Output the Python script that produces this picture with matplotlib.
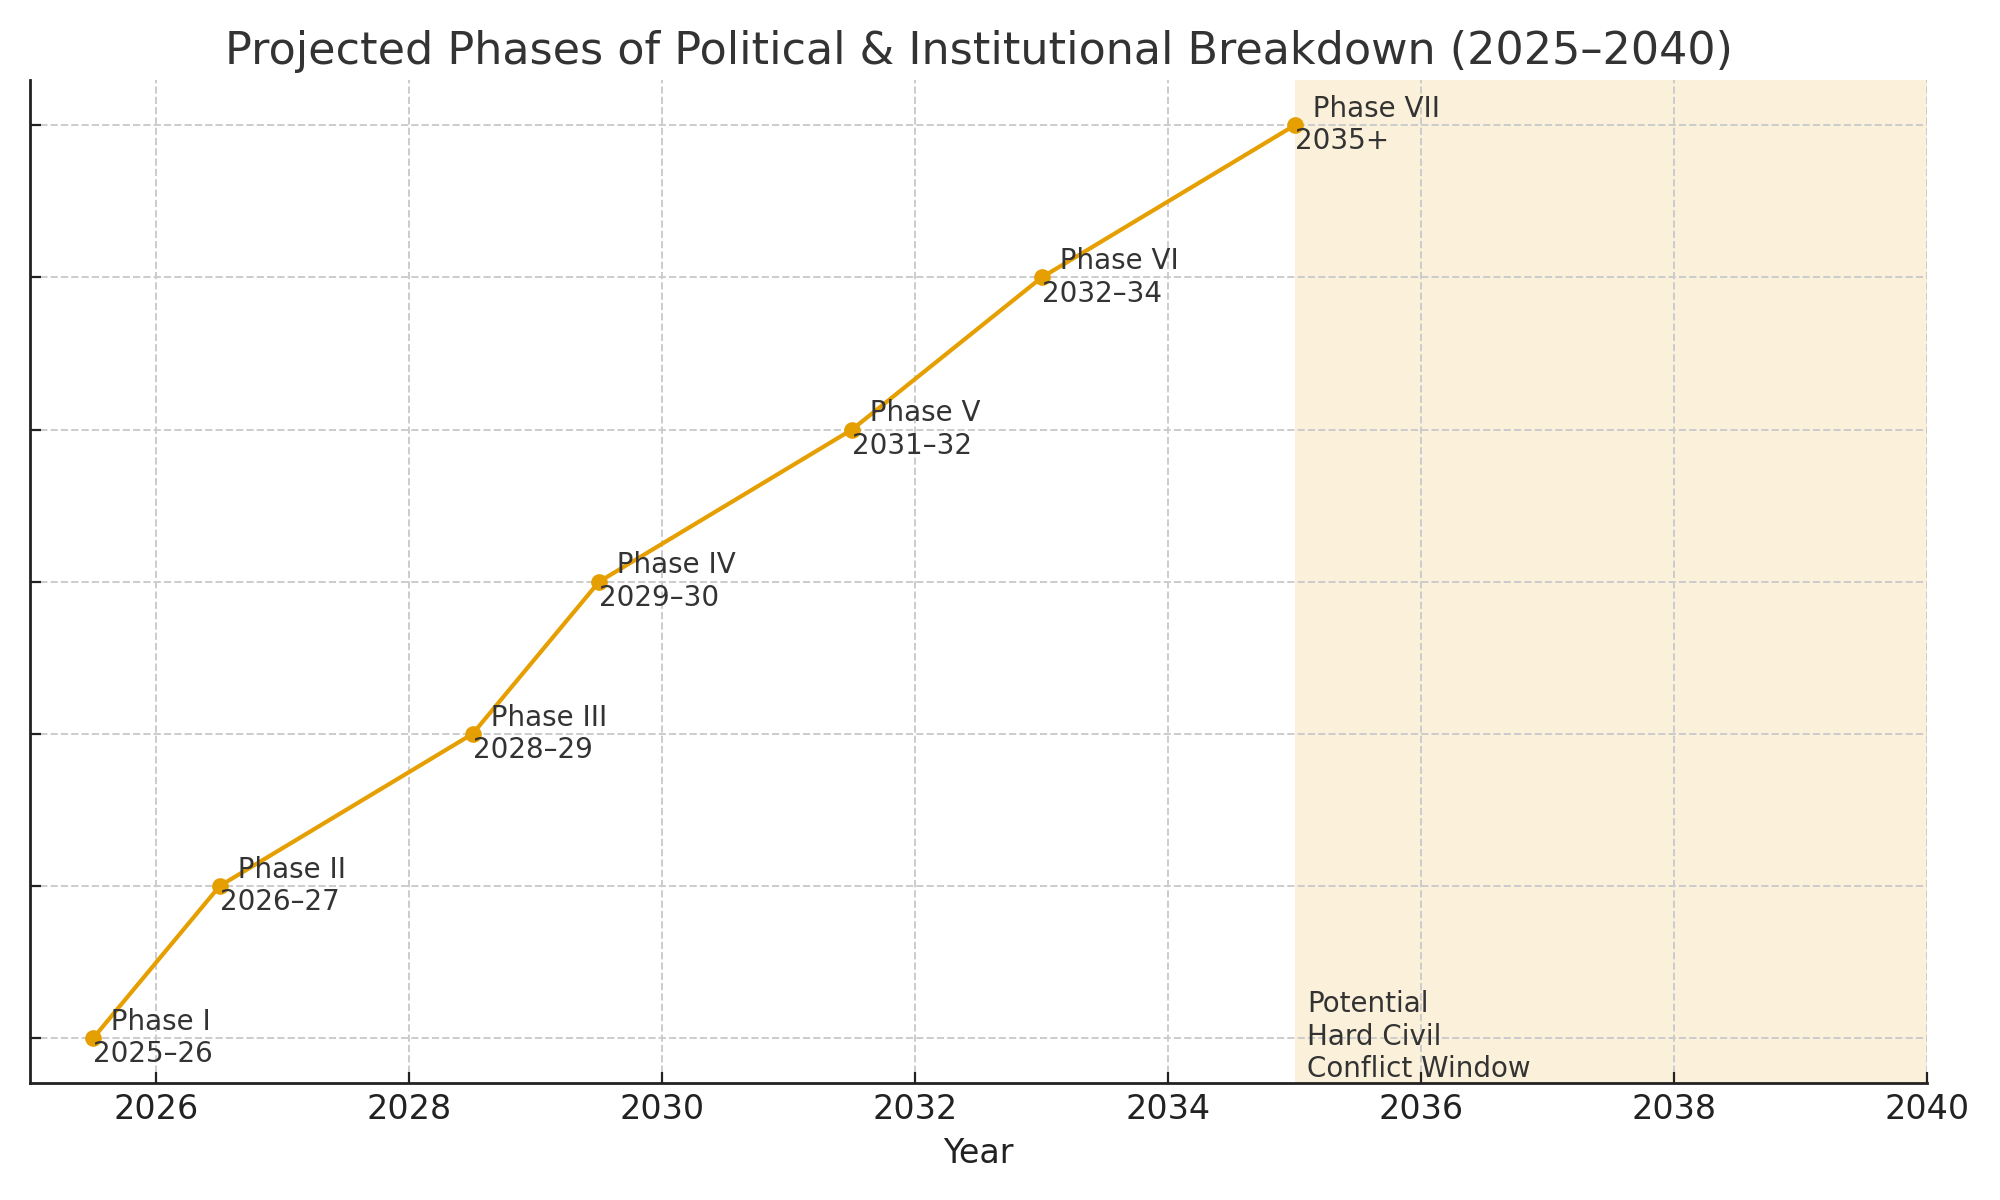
import matplotlib.pyplot as plt

# =========================================================
# DATA
# =========================================================

years = [2025.5, 2026.5, 2028.5, 2029.5, 2031.5, 2033.0, 2035.0]
levels = [1, 2, 3, 4, 5, 6, 7]
phases = ["Phase I", "Phase II", "Phase III", "Phase IV",
          "Phase V", "Phase VI", "Phase VII"]
periods = ["2025–26", "2026–27", "2028–29", "2029–30",
           "2031–32", "2032–34", "2035+"]

window_start = 2035
window_end = 2040
window_label = "Potential\nHard Civil\nConflict Window"

line_color = "#E69F00"
text_color = "#333333"

# =========================================================
# FIGURE
# =========================================================

fig, ax = plt.subplots(figsize=(10, 6), dpi=200)
fig.subplots_adjust(left=0.015, right=0.9635, top=0.933, bottom=0.0975)

# shaded window
ax.axvspan(window_start, window_end, color=line_color, alpha=0.15, lw=0)

# main line
ax.plot(years, levels, color=line_color, lw=1.5, marker="o", markersize=5)

# phase labels
for x, y, ph, per in zip(years, levels, phases, periods):
    ax.text(x, y, "  " + ph + "\n" + per, ha="left", va="center",
            fontsize=10, color=text_color)

ax.text(window_start + 0.1, 0.705, window_label, ha="left", va="bottom",
        fontsize=10, color=text_color)

# =========================================================
# AXES
# =========================================================

ax.set_xlim(2025, 2040)
ax.set_ylim(0.705, 7.295)
ax.set_xticks(range(2026, 2041, 2))
ax.set_yticks(levels)
ax.set_yticklabels([])

ax.tick_params(direction="in", labelsize=12, colors="#222222", length=4)

for side in ["top", "right"]:
    ax.spines[side].set_visible(False)
for side in ["left", "bottom"]:
    ax.spines[side].set_color("#222222")
    ax.spines[side].set_linewidth(1.0)

ax.grid(True, linestyle="--", color="#cccccc", linewidth=0.7)

ax.set_xlabel("Year", fontsize=12, color="#222222")
ax.set_title("Projected Phases of Political & Institutional Breakdown (2025–2040)",
             fontsize=16, color=text_color)

plt.savefig("out.png")
